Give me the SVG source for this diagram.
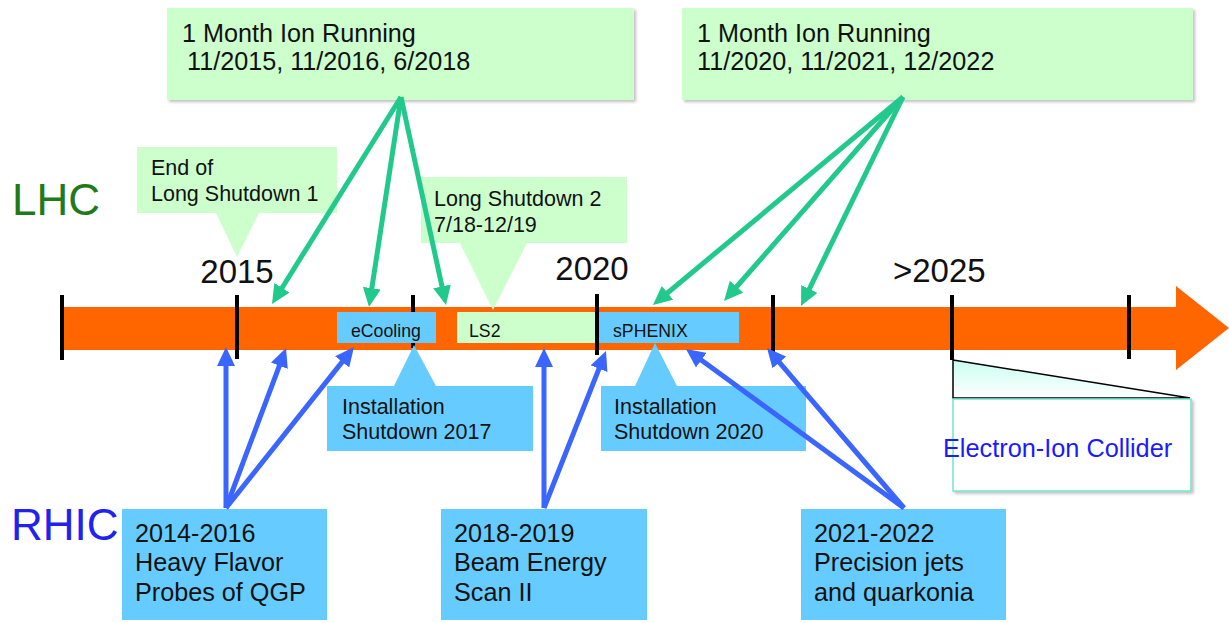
<svg xmlns="http://www.w3.org/2000/svg" width="1229" height="623" viewBox="0 0 1229 623">
<style>
text{font-family:"Liberation Sans",Arial,sans-serif;fill:#111}
.g{fill:#ccffcc}
.b{fill:#66ccff}
.tick{stroke:#000;stroke-width:4}
.ta{stroke:#22c98c;stroke-width:5;fill:none;marker-end:url(#mt)}
.ba{stroke:#3a66ff;stroke-width:5;fill:none;marker-end:url(#mb)}
.t24{font-size:25.2px}
.t21{font-size:21.5px}
.t17{font-size:17.7px}
.yr{font-size:33px}
</style>
<defs>
<marker id="mt" markerUnits="userSpaceOnUse" viewBox="0 -9 19 18" refX="1" refY="0" markerWidth="19" markerHeight="18" orient="auto"><path d="M0,-9 L19,0 L0,9 Z" fill="#22c98c"/></marker>
<marker id="mb" markerUnits="userSpaceOnUse" viewBox="0 -9 19 18" refX="1" refY="0" markerWidth="19" markerHeight="18" orient="auto"><path d="M0,-9 L19,0 L0,9 Z" fill="#3a66ff"/></marker>
<linearGradient id="eg" x1="0" y1="0" x2="0" y2="1"><stop offset="0" stop-color="#c8fff0"/><stop offset="1" stop-color="#ffffff"/></linearGradient>
<filter id="sh" x="-5%" y="-5%" width="112%" height="115%"><feDropShadow dx="2" dy="2" stdDeviation="1.5" flood-color="#000" flood-opacity="0.25"/></filter>
</defs>

<g id="labels">
<text x="12" y="215" style="font-size:44px;fill:#1f7a1a">LHC</text>
<text x="11" y="540" style="font-size:44px;fill:#2222ee">RHIC</text>
</g>

<g id="timeline">
<rect x="62" y="307" width="1115" height="43" fill="#ff6600"/>
<polygon points="1176,286 1229,328 1176,370" fill="#ff6600"/>
<line class="tick" x1="62" y1="295" x2="62" y2="360"/>
<line class="tick" x1="237" y1="295" x2="237" y2="359"/>
<line class="tick" x1="413" y1="295" x2="413" y2="348"/>
<line class="tick" x1="773" y1="295" x2="773" y2="352"/>
<line class="tick" x1="952" y1="295" x2="952" y2="360"/>
<line class="tick" x1="1129" y1="295" x2="1129" y2="359"/>
<text class="yr" x="237" y="283" text-anchor="middle">2015</text>
<text class="yr" x="592" y="280" text-anchor="middle">2020</text>
<text class="yr" x="893" y="282">&gt;2025</text>
</g>

<g id="ecooling">
<rect class="b" x="337" y="312" width="99" height="31"/>
<text class="t17" x="351" y="337">eCooling</text>
</g>
<g id="ls2">
<rect class="g" x="457" y="312" width="141" height="31"/>
<text class="t17" x="469" y="337">LS2</text>
</g>
<g id="sphenix">
<rect class="b" x="598" y="312" width="141" height="31"/>
<text class="t17" x="613" y="337">sPHENIX</text>
</g>
<line class="tick" x1="597" y1="294" x2="597" y2="355"/>

<g id="lhc-ion-1">
<rect class="g" x="167" y="8" width="467" height="92" filter="url(#sh)"/>
<text class="t24" x="182" y="42">1 Month Ion Running</text>
<text class="t24" x="187" y="70">11/2015, 11/2016, 6/2018</text>
</g>
<g id="lhc-ion-2">
<rect class="g" x="682" y="8" width="511" height="92" filter="url(#sh)"/>
<text class="t24" x="697" y="42">1 Month Ion Running</text>
<text class="t24" x="697" y="70">11/2020, 11/2021, 12/2022</text>
</g>
<g id="end-ls1">
<path class="g" d="M137,147 H337 V213 H259 L237,257 L216,213 H137 Z"/>
<text class="t21" x="151" y="175">End of</text>
<text class="t21" x="151" y="201">Long Shutdown 1</text>
</g>
<g id="long-shutdown-2">
<path class="g" d="M421,177 H627 V243 H527 L493,310 L460,243 H421 Z"/>
<text class="t21" x="434" y="206">Long Shutdown 2</text>
<text class="t21" x="434" y="232">7/18-12/19</text>
</g>
<g id="install-2017">
<path class="b" d="M327,386 H394 L414,345 L436,386 H533 V451 H327 Z"/>
<text class="t21" x="342" y="414">Installation</text>
<text class="t21" x="342" y="439">Shutdown 2017</text>
</g>
<g id="install-2020">
<path class="b" d="M601,386 H635 L655,343 L677,386 H806 V451 H601 Z"/>
<text class="t21" x="614" y="414">Installation</text>
<text class="t21" x="614" y="439">Shutdown 2020</text>
</g>

<g id="rhic-2014">
<rect class="b" x="122" y="509" width="205" height="111"/>
<text class="t24" x="135" y="542">2014-2016</text>
<text class="t24" x="135" y="571">Heavy Flavor</text>
<text class="t24" x="135" y="601">Probes of QGP</text>
</g>
<g id="rhic-2018">
<rect class="b" x="441" y="509" width="206" height="111"/>
<text class="t24" x="454" y="542">2018-2019</text>
<text class="t24" x="454" y="571">Beam Energy</text>
<text class="t24" x="454" y="601">Scan II</text>
</g>
<g id="rhic-2021">
<rect class="b" x="801" y="509" width="205" height="111"/>
<text class="t24" x="814" y="542">2021-2022</text>
<text class="t24" x="814" y="571">Precision jets</text>
<text class="t24" x="814" y="601">and quarkonia</text>
</g>

<g id="eic">
<polygon points="953,360 1190,398 953,398" fill="url(#eg)" stroke="#000" stroke-width="1.5"/>
<rect x="953" y="399" width="238" height="92" fill="#fff" stroke="#6ee8cc" stroke-width="1.5" filter="url(#sh)"/>
<text x="943" y="457" style="font-size:25.3px;fill:#1a1aff">Electron-Ion Collider</text>
</g>

<g id="connectors">
<line class="ta" x1="401" y1="97" x2="281.5" y2="288.7"/>
<line class="ta" x1="401" y1="97" x2="371.7" y2="289.2"/>
<line class="ta" x1="401" y1="97" x2="442.2" y2="287.4"/>
<line class="ta" x1="903" y1="97" x2="666.8" y2="293.5"/>
<line class="ta" x1="903" y1="97" x2="735.9" y2="287.5"/>
<line class="ta" x1="903" y1="97" x2="808.9" y2="289.8"/>
<line class="ba" x1="226" y1="508" x2="226" y2="365"/>
<line class="ba" x1="226" y1="508" x2="279.7" y2="364.8"/>
<line class="ba" x1="226" y1="508" x2="342.8" y2="361.1"/>
<line class="ba" x1="544" y1="508" x2="544" y2="366"/>
<line class="ba" x1="544" y1="508" x2="599.4" y2="367.7"/>
<line class="ba" x1="904" y1="508" x2="700.5" y2="359.6"/>
<line class="ba" x1="904" y1="508" x2="778.7" y2="361.7"/>
</g>
</svg>
